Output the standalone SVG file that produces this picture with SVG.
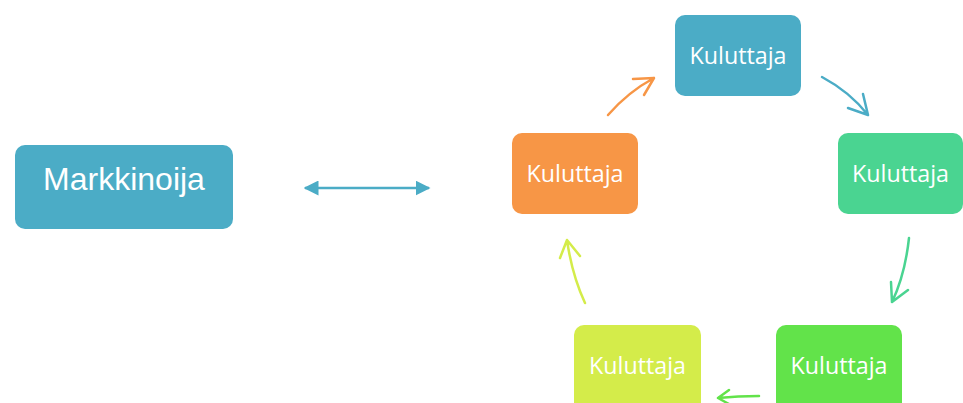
<svg xmlns="http://www.w3.org/2000/svg" width="963" height="403" viewBox="0 0 963 403">
<style>
.k{font-family:"Open Sans","Noto Sans",sans-serif;font-size:24px;fill:#ffffff;text-anchor:middle}
.m{font-family:"Liberation Sans",Arial,sans-serif;font-size:32px;fill:#ffffff;text-anchor:middle}
.c{fill:none;stroke-width:2.5;stroke-linecap:round;stroke-linejoin:round}
</style>
<defs>
<marker id="tri" viewBox="0 0 10 10" refX="9" refY="5" markerWidth="6" markerHeight="6" orient="auto-start-reverse" markerUnits="strokeWidth">
<path d="M0,0 L10,5 L0,10 Z" fill="#4BACC6"/>
</marker>
</defs>
<rect width="963" height="403" fill="#ffffff"/>
<g id="markkinoija">
<rect x="15" y="145" width="218" height="84" rx="10" fill="#4BACC6"/>
<text class="m" x="124" y="190">Markkinoija</text>
</g>
<g id="kuluttaja-top">
<rect x="675" y="15" width="126" height="81" rx="10" fill="#4BACC6"/>
<text class="k" x="738" y="64" textLength="97" lengthAdjust="spacingAndGlyphs">Kuluttaja</text>
</g>
<g id="kuluttaja-right">
<rect x="838" y="133" width="125" height="81" rx="10" fill="#4AD491"/>
<text class="k" x="900.5" y="182" textLength="97" lengthAdjust="spacingAndGlyphs">Kuluttaja</text>
</g>
<g id="kuluttaja-bottom-right">
<rect x="776" y="325" width="126" height="90" rx="10" fill="#62E34A"/>
<text class="k" x="839" y="374" textLength="97" lengthAdjust="spacingAndGlyphs">Kuluttaja</text>
</g>
<g id="kuluttaja-bottom-left">
<rect x="574" y="325" width="127" height="90" rx="10" fill="#D4EC4A"/>
<text class="k" x="637.5" y="374" textLength="97" lengthAdjust="spacingAndGlyphs">Kuluttaja</text>
</g>
<g id="kuluttaja-left">
<rect x="512" y="133" width="126" height="81" rx="10" fill="#F79646"/>
<text class="k" x="575" y="182" textLength="97" lengthAdjust="spacingAndGlyphs">Kuluttaja</text>
</g>
<g id="connectors">
<path d="M305,188 L429,188" stroke="#4BACC6" stroke-width="2.5" fill="none" marker-start="url(#tri)" marker-end="url(#tri)"/>
<path class="c" stroke="#F79646" d="M608,115 Q628,92 654,78 M633,79 L654,78 L644,95"/>
<path class="c" stroke="#4BACC6" d="M822,77 Q850,92 868,115 M848,108 L868,115 L863,94"/>
<path class="c" stroke="#4AD491" d="M909,238 Q905,275 892,302 M891,282 L892,302 L908,290"/>
<path class="c" stroke="#62E34A" d="M759,396 Q738,396 718,398 M729,390 L718,398 L729,404"/>
<path class="c" stroke="#D4EC4A" d="M585,303 Q572,275 567,240 M560,258 L567,240 L580,256"/>
</g>
</svg>
